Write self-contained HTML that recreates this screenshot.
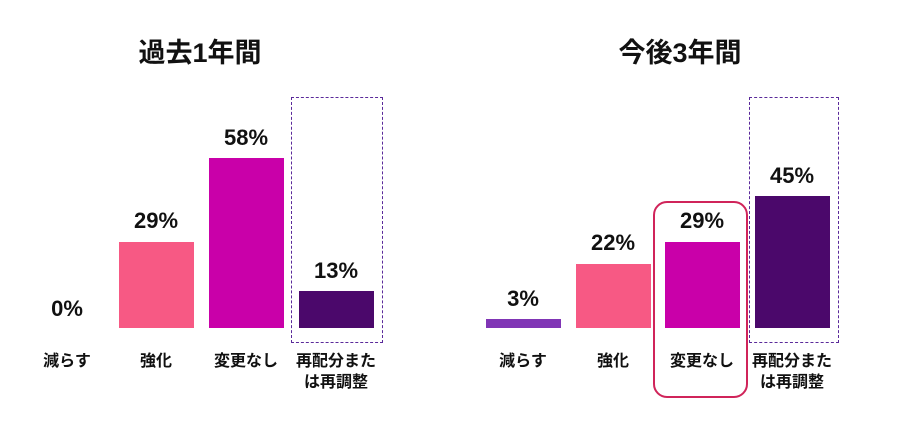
<!DOCTYPE html>
<html><head><meta charset="utf-8"><style>
body{margin:0;width:900px;height:430px;background:#fff;position:relative;overflow:hidden;font-family:"Liberation Sans","Noto Sans CJK JP",sans-serif;}
.a{position:absolute}
.b{position:absolute}
.v{position:absolute;width:100px;text-align:center;font-weight:bold;font-size:22px;color:#111}
.l{position:absolute;width:100px;text-align:center;font-weight:bold;font-size:16px;color:#111;line-height:21px}
.t{position:absolute;width:300px;text-align:center;font-weight:bold;font-size:27px;color:#111}
</style></head><body>
<div class="t" style="left:50px;top:31px">過去1年間</div>
<div class="t" style="left:530px;top:31px">今後3年間</div>
<div class="a" style="left:291px;top:97px;width:90px;height:244px;border:1px dashed #5a2a9a"></div>
<div class="a" style="left:749px;top:97px;width:88px;height:244px;border:1px dashed #5a2a9a"></div>
<div class="a" style="left:653px;top:201px;width:91px;height:193px;border:2.5px solid #d0245a;border-radius:14px"></div>
<div class="b" style="left:119px;top:242px;width:75px;height:86px;background:#f75984"></div>
<div class="b" style="left:209px;top:158px;width:75px;height:170px;background:#c900a9"></div>
<div class="b" style="left:299px;top:291px;width:75px;height:37px;background:#4b086b"></div>
<div class="b" style="left:486px;top:319px;width:75px;height:9px;background:#8035b5"></div>
<div class="b" style="left:576px;top:264px;width:75px;height:64px;background:#f75984"></div>
<div class="b" style="left:665px;top:242px;width:75px;height:86px;background:#c900a9"></div>
<div class="b" style="left:755px;top:196px;width:75px;height:132px;background:#4b086b"></div>
<div class="v" style="left:17px;top:296px">0%</div>
<div class="v" style="left:106px;top:208px">29%</div>
<div class="v" style="left:196px;top:125px">58%</div>
<div class="v" style="left:286px;top:258px">13%</div>
<div class="v" style="left:473px;top:286px">3%</div>
<div class="v" style="left:563px;top:230px">22%</div>
<div class="v" style="left:652px;top:208px">29%</div>
<div class="v" style="left:742px;top:163px">45%</div>
<div class="l" style="left:17px;top:351px">減らす</div>
<div class="l" style="left:106px;top:351px">強化</div>
<div class="l" style="left:196px;top:351px">変更なし</div>
<div class="l" style="left:286px;top:351px">再配分また<br>は再調整</div>
<div class="l" style="left:473px;top:351px">減らす</div>
<div class="l" style="left:563px;top:351px">強化</div>
<div class="l" style="left:652px;top:351px">変更なし</div>
<div class="l" style="left:742px;top:351px">再配分また<br>は再調整</div>
</body></html>
